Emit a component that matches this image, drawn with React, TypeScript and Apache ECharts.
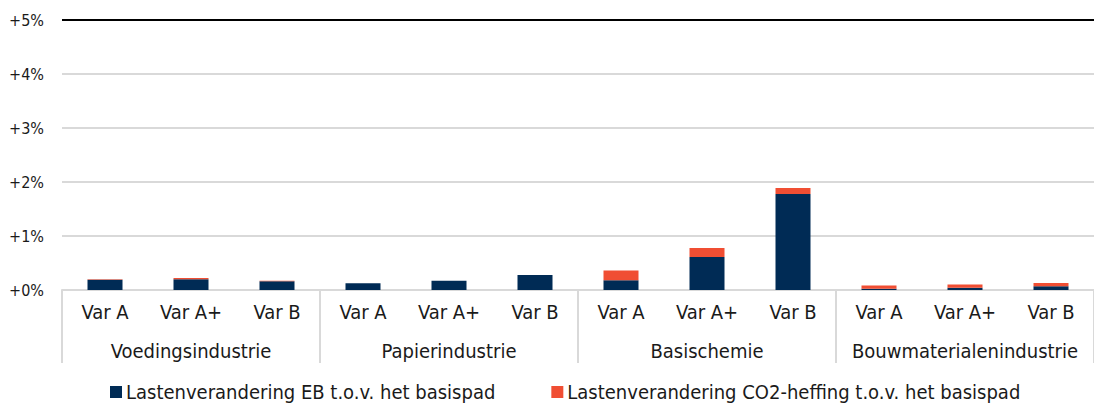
import React, { useEffect, useRef } from "react";
import * as echarts from "echarts";

const groups = ["Voedingsindustrie", "Papierindustrie", "Basischemie", "Bouwmaterialenindustrie"];
const variants = ["Var A", "Var A+", "Var B"];
const categories = groups.flatMap(() => variants);
const ebValues = [0.19, 0.2, 0.16, 0.125, 0.17, 0.28, 0.18, 0.61, 1.78, 0.025, 0.04, 0.07];
const co2Values = [0.01, 0.02, 0.01, 0, 0, 0, 0.18, 0.17, 0.11, 0.06, 0.06, 0.06];
const seriesNames = ["Lastenverandering EB t.o.v. het basispad", "Lastenverandering CO2-heffing t.o.v. het basispad"];

const FONT = "'DejaVu Sans Condensed', 'DejaVu Sans', sans-serif";
const NAVY = "#002B55";
const RED = "#F04E33";

export default function App() {
  const ref = useRef<HTMLDivElement>(null);
  useEffect(() => {
    if (!ref.current) return;
    const chart = echarts.init(ref.current, undefined, { renderer: "svg" });
    chart.setOption({
      animation: false,
      textStyle: { fontFamily: FONT },
      grid: { left: 62, top: 20, width: 1044, height: 270, containLabel: false },
      legend: {
        left: 105,
        top: 377,
        itemWidth: 12,
        itemHeight: 12,
        itemGap: 56,
        icon: "rect",
        textStyle: { fontFamily: FONT, fontSize: 20, color: "#1a1a1a", padding: [0, 0, 0, -1] },
        data: seriesNames,
      },
      xAxis: [
        {
          type: "category",
          data: categories,
          axisLine: { show: true, lineStyle: { color: "#d9d9d9", width: 2 } },
          axisTick: { show: false },
          axisLabel: { interval: 0, margin: 12, fontSize: 20, fontFamily: FONT, color: "#1a1a1a" },
        },
        {
          type: "category",
          data: groups,
          position: "bottom",
          axisLine: { show: false },
          axisTick: { show: true, length: 73, lineStyle: { color: "#d9d9d9", width: 2 } },
          axisLabel: { interval: 0, margin: 51, fontSize: 20, fontFamily: FONT, color: "#1a1a1a" },
        },
      ],
      yAxis: {
        type: "value",
        min: 0,
        max: 5,
        interval: 1,
        axisLine: { show: false },
        axisTick: { show: false },
        axisLabel: {
          margin: 18,
          fontSize: 16,
          fontFamily: FONT,
          color: "#1a1a1a",
          formatter: (v: number) => "+" + v + "%",
        },
        splitLine: { show: true, lineStyle: { color: "#d9d9d9", width: 2 } },
      },
      series: [
        {
          name: seriesNames[0],
          type: "bar",
          stack: "total",
          barWidth: 35,
          xAxisIndex: 0,
          itemStyle: { color: NAVY },
          data: ebValues,
          markLine: {
            silent: true,
            symbol: "none",
            label: { show: false },
            lineStyle: { color: "#000", width: 2, type: "solid" },
            data: [{ yAxis: 5 }],
          },
        },
        {
          name: seriesNames[1],
          type: "bar",
          stack: "total",
          barWidth: 35,
          xAxisIndex: 0,
          itemStyle: { color: RED },
          data: co2Values,
        },
      ],
    });
    return () => chart.dispose();
  }, []);
  return (
    <div
      ref={ref}
      style={{ position: "absolute", left: 0, top: 0, width: 1094, height: 403, overflow: "hidden" }}
    />
  );
}
